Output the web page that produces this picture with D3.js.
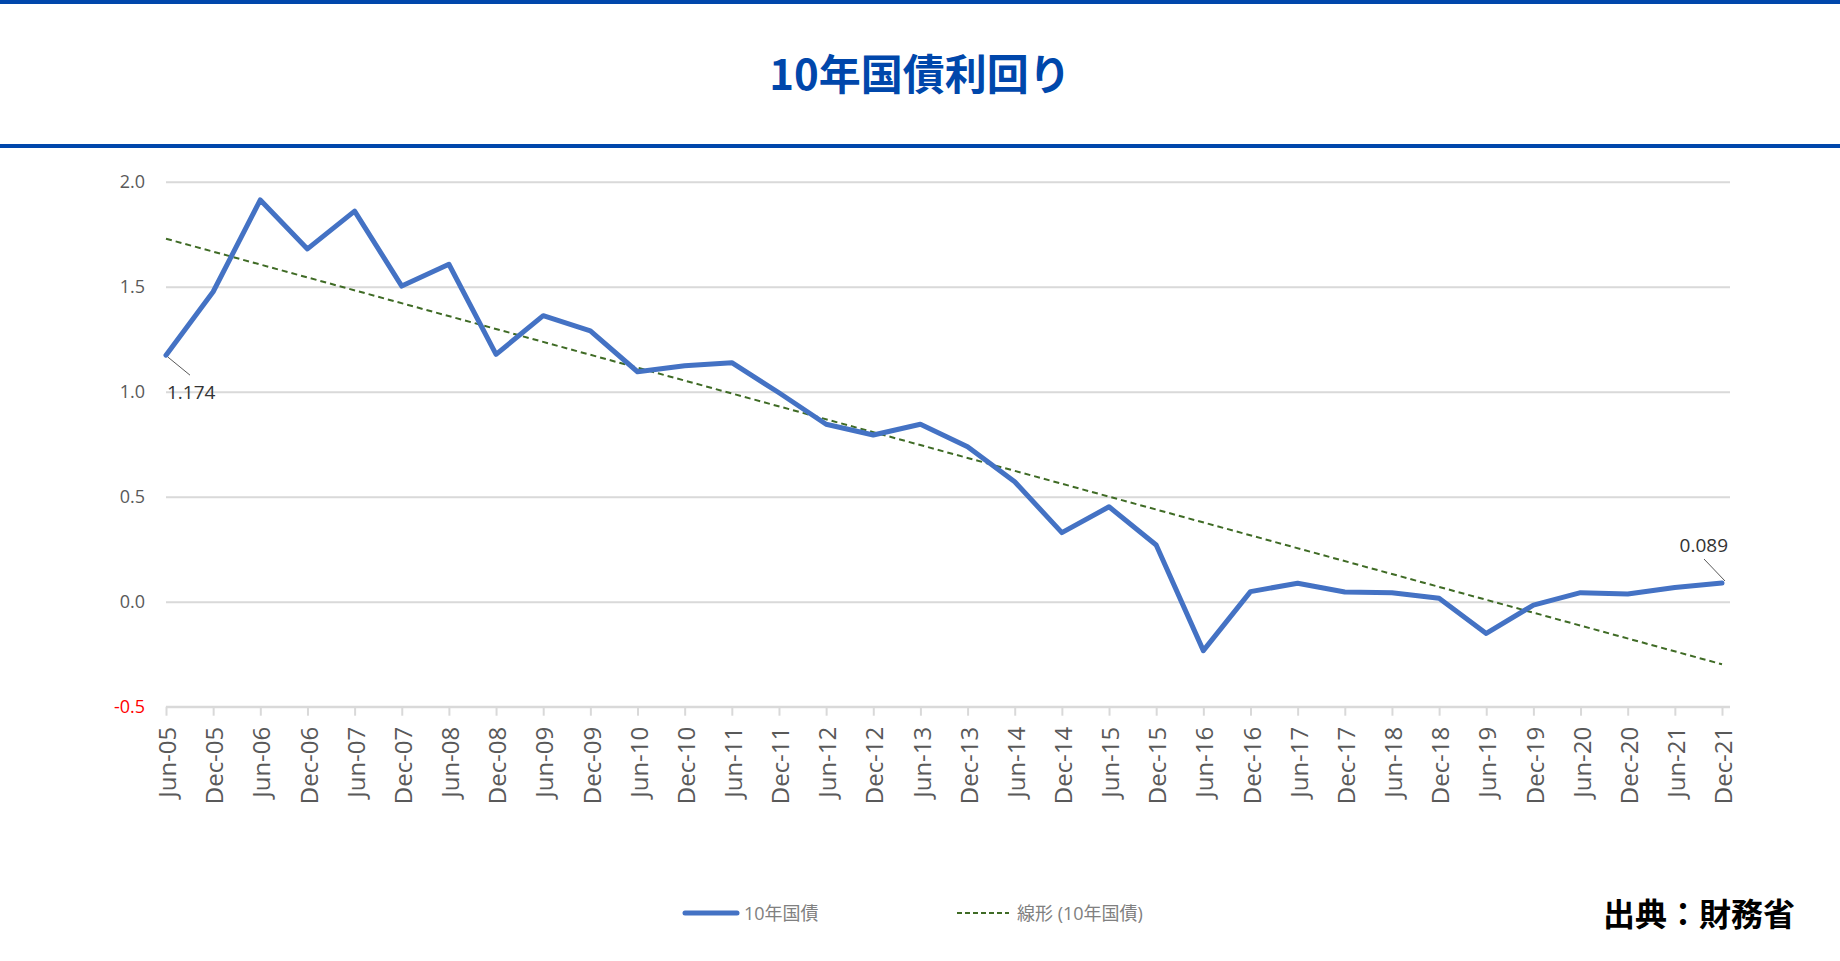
<!DOCTYPE html>
<html lang="ja">
<head>
<meta charset="utf-8">
<title>10年国債利回り</title>
<script src="https://cdn.jsdelivr.net/npm/d3@7"></script>
<style>
    html, body { margin: 0; padding: 0; background: #fff; }
    svg { display: block; }
</style>
</head>
<body>
<div id="chart"></div>
<script>
// Half-year observation labels.
const categories = [
    'Jun-05', 'Dec-05', 'Jun-06', 'Dec-06', 'Jun-07', 'Dec-07', 'Jun-08', 'Dec-08',
    'Jun-09', 'Dec-09', 'Jun-10', 'Dec-10', 'Jun-11', 'Dec-11', 'Jun-12', 'Dec-12',
    'Jun-13', 'Dec-13', 'Jun-14', 'Dec-14', 'Jun-15', 'Dec-15', 'Jun-16', 'Dec-16',
    'Jun-17', 'Dec-17', 'Jun-18', 'Dec-18', 'Jun-19', 'Dec-19', 'Jun-20', 'Dec-20',
    'Jun-21', 'Dec-21'
];
// 10-year JGB yield (%).
const yields = [
    1.174, 1.476, 1.913, 1.680, 1.860, 1.503, 1.607, 1.178,
    1.362, 1.290, 1.095, 1.124, 1.138, 0.995, 0.845, 0.794,
    0.845, 0.738, 0.571, 0.329, 0.452, 0.270, -0.233, 0.048,
    0.088, 0.046, 0.043, 0.016, -0.151, -0.016, 0.043, 0.037,
    0.068, 0.089
];
const yTicks = [-0.5, 0.0, 0.5, 1.0, 1.5, 2.0];
const seriesName = '10年国債';
const trendName = '線形 (10年国債)';
const title = '10年国債利回り';
const source = '出典：財務省';

const W = 1840, H = 961;
const blue = '#0047ab';
const lineColor = '#4472c4';
const trendColor = '#3f6b25';
const grid = '#d9d9d9';

const svg = d3.select('#chart')
    .append('svg')
        .attr('width', W)
        .attr('height', H)
        .attr('viewBox', `0 0 ${W} ${H}`);

// Header bars and title.
svg.append('rect').attr('x', 0).attr('y', 0).attr('width', W).attr('height', 4).attr('fill', blue);
svg.append('rect').attr('x', 0).attr('y', 144).attr('width', W).attr('height', 4).attr('fill', blue);
svg.append('text')
    .attr('x', W / 2)
    .attr('y', 71)
    .attr('text-anchor', 'middle')
    .attr('dominant-baseline', 'central')
    .style('font-family', '"Noto Sans CJK JP", "Noto Sans", sans-serif')
    .style('font-weight', 700)
    .style('font-size', '42px')
    .attr('fill', blue)
    .text(title);

// Scales.
const x = d3.scalePoint()
    .domain(categories)
    .range([166, 1722]);
const y = d3.scaleLinear()
    .domain([-0.5, 2.0])
    .range([706.7, 181.7]);

const data = categories.map((c, i) => ({label: c, value: yields[i], i}));

// Excel-style number format with a plain hyphen for negatives.
const fmt1 = d => d3.format('.1f')(d).replace('\u2212', '-');

// Y axis with gridlines.
const yGroup = svg.append('g')
    .attr('transform', 'translate(166,0)')
    .call(d3.axisLeft(y)
        .tickValues(yTicks)
        .tickFormat(fmt1)
        .tickSize(-(1730 - 166))
        .tickPadding(21));
yGroup.select('.domain').remove();
yGroup.selectAll('.tick line')
    .attr('stroke', grid)
    .attr('stroke-width', 2);
yGroup.selectAll('.tick text')
    .style('font-family', '"Open Sans", "Noto Sans", sans-serif')
    .style('font-size', '18px')
    .attr('fill', d => d < 0 ? '#ff0000' : '#595959');

// X axis.
const xGroup = svg.append('g')
    .attr('transform', `translate(0,${y(-0.5)})`)
    .call(d3.axisBottom(x).tickSize(9).tickSizeOuter(0));
xGroup.select('.domain')
    .attr('d', `M166,0H1730`)
    .attr('stroke', grid)
    .attr('stroke-width', 2);
xGroup.selectAll('.tick line')
    .attr('stroke', grid)
    .attr('stroke-width', 2);
xGroup.selectAll('.tick text')
    .attr('y', 0)
    .attr('dy', '0.36em')
    .attr('transform', 'translate(1,20) rotate(-90)')
    .style('text-anchor', 'end')
    .style('font-family', '"Open Sans", "Noto Sans", sans-serif')
    .style('font-size', '24px')
    .attr('fill', '#595959');

// Linear trendline (least squares on the category index, like Excel).
const n = data.length;
const mx = d3.mean(data, d => d.i);
const my = d3.mean(data, d => d.value);
const slope = d3.sum(data, d => (d.i - mx) * (d.value - my)) / d3.sum(data, d => (d.i - mx) ** 2);
const icpt = my - slope * mx;
const trend = [data[0], data[n - 1]].map(d => ({label: d.label, value: icpt + slope * d.i}));

svg.append('path')
    .datum(trend)
    .attr('fill', 'none')
    .attr('stroke', trendColor)
    .attr('stroke-width', 2)
    .attr('stroke-dasharray', '6,4')
    .attr('d', d3.line().x(d => x(d.label)).y(d => y(d.value)));

// Main series.
svg.append('path')
    .datum(data)
    .attr('fill', 'none')
    .attr('stroke', lineColor)
    .attr('stroke-width', 5)
    .attr('stroke-linejoin', 'round')
    .attr('stroke-linecap', 'round')
    .attr('d', d3.line().x(d => x(d.label)).y(d => y(d.value)));

// Data labels for first and last point, with leader lines.
const first = data[0], last = data[n - 1];
const labelStyle = sel => sel
    .style('font-family', '"Open Sans", "Noto Sans", sans-serif')
    .style('font-size', '19px')
    .attr('fill', '#333');

svg.append('line')
    .attr('x1', x(first.label) + 2).attr('y1', y(first.value) + 2)
    .attr('x2', x(first.label) + 24).attr('y2', y(first.value) + 20)
    .attr('stroke', '#595959').attr('stroke-width', 1);
svg.append('text')
    .attr('x', x(first.label) + 1)
    .attr('y', y(first.value) + 37)
    .attr('dominant-baseline', 'central')
    .call(labelStyle)
    .text(first.value.toFixed(3));

svg.append('line')
    .attr('x1', x(last.label) + 3).attr('y1', y(last.value) - 2)
    .attr('x2', x(last.label) - 18).attr('y2', y(last.value) - 24)
    .attr('stroke', '#595959').attr('stroke-width', 1);
svg.append('text')
    .attr('x', x(last.label) + 6)
    .attr('y', y(last.value) - 38)
    .attr('text-anchor', 'end')
    .attr('dominant-baseline', 'central')
    .call(labelStyle)
    .text(last.value.toFixed(3));

// Legend.
const legend = svg.append('g')
    .style('font-family', '"Open Sans", "Noto Sans CJK JP", sans-serif')
    .style('font-size', '18px');
legend.append('line')
    .attr('x1', 685).attr('x2', 737).attr('y1', 913).attr('y2', 913)
    .attr('stroke', lineColor).attr('stroke-width', 5).attr('stroke-linecap', 'round');
legend.append('text')
    .attr('x', 744).attr('y', 913)
    .attr('dominant-baseline', 'central')
    .attr('fill', '#808080')
    .text(seriesName);
legend.append('line')
    .attr('x1', 957).attr('x2', 1009).attr('y1', 913).attr('y2', 913)
    .attr('stroke', trendColor).attr('stroke-width', 2).attr('stroke-dasharray', '5,3');
legend.append('text')
    .attr('x', 1017).attr('y', 913)
    .attr('dominant-baseline', 'central')
    .attr('fill', '#808080')
    .text(trendName);

// Source.
svg.append('text')
    .attr('x', 1795).attr('y', 912)
    .attr('text-anchor', 'end')
    .attr('dominant-baseline', 'central')
    .style('font-family', '"Noto Sans CJK JP", sans-serif')
    .style('font-weight', 700)
    .style('font-size', '32px')
    .attr('fill', '#000')
    .text(source);
</script>
</body>
</html>
